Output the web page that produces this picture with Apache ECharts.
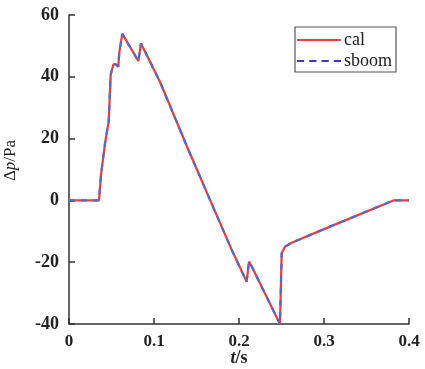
<!DOCTYPE html>
<html><head><meta charset="utf-8">
<script src="https://cdn.jsdelivr.net/npm/echarts@6/dist/echarts.min.js"></script>
<style>html,body{margin:0;padding:0;background:#fff}#c{width:425px;height:369px}</style>
</head><body><div id="c"></div>
<script>
var seriesNames = ['cal', 'sboom'];
var tValues = [0, 0.0353, 0.0376, 0.0424, 0.045, 0.0467, 0.049, 0.0522, 0.0553, 0.058, 0.0592, 0.0627, 0.0816, 0.0827, 0.0847, 0.0867, 0.107, 0.1404, 0.1914, 0.209, 0.2118, 0.2141, 0.2482, 0.2502, 0.2541, 0.262, 0.3, 0.3816, 0.4];
var calValues = [0, 0, 8.2, 18.5, 22.8, 25.5, 40.6, 44, 44, 43.3, 48, 53.9, 45.1, 44.6, 50.8, 51.4, 38.4, 16.4, -16, -26.3, -19.8, -20.9, -40, -17.1, -15, -13.7, -9.3, 0, 0];
var sboomValues = [0, 0, 8.2, 18.5, 22.8, 25.5, 40.6, 44, 44, 43.3, 48, 53.9, 45.1, 44.6, 50.8, 51.4, 38.4, 16.4, -16, -26.3, -19.8, -20.9, -40, -17.1, -15, -13.7, -9.3, 0, 0];
var xTicks = [0, 0.1, 0.2, 0.3, 0.4];
var yTicks = [-40, -20, 0, 20, 40, 60];

function pairs(xs, ys){ return xs.map(function(x,i){ return [x, ys[i]]; }); }
var serif = 'Liberation Serif';
var chart = echarts.init(document.getElementById('c'));
chart.setOption({
  animation: false,
  backgroundColor: '#fff',
  grid: {left: 69, right: 16, top: 15, bottom: 45, containLabel: false, outerBoundsMode: 'none'},
  legend: {
    show: true, orient: 'vertical', right: 29, top: 27,
    padding: [4, 4, 2, 2], itemGap: 3,
    borderColor: '#555', borderWidth: 1.2,
    itemWidth: 44, itemHeight: 14,
    textStyle: {fontFamily: serif, fontSize: 18, color: '#222', padding: [0,0,0,-2]},
    data: [
      {name: seriesNames[0], icon: 'path://M0,6 L44,6 L44,8 L0,8 Z', itemStyle: {color: '#f04040'}},
      {name: seriesNames[1], icon: 'path://M0,6 L7,6 L7,8 L0,8 Z M12,6 L19,6 L19,8 L12,8 Z M24,6 L31,6 L31,8 L24,8 Z M36,6 L43,6 L43,8 L36,8 Z', itemStyle: {color: '#3a3ab8'}}
    ]
  },
  xAxis: {
    type: 'value', min: xTicks[0], max: xTicks[xTicks.length-1], interval: 0.1,
    name: '{i|t}{n|/s}', nameLocation: 'middle', nameGap: 25, nameMoveOverlap: false,
    nameTextStyle: {rich: {i: {fontFamily: serif, fontStyle: 'italic', fontWeight: 'bold', fontSize: 18, color: '#222'}, n: {fontFamily: serif, fontWeight: 'bold', fontSize: 18, color: '#222'}}},
    axisLine: {show: true, onZero: false, lineStyle: {color: '#333', width: 1.5}},
    axisTick: {show: true, inside: true, length: 6, lineStyle: {color: '#333', width: 1.5}},
    axisLabel: {fontFamily: serif, fontWeight: 'bold', fontSize: 17, color: '#222', margin: 9,
      formatter: function(v){ return v === 0 ? '0' : v.toFixed(1); }},
    splitLine: {show: false}
  },
  yAxis: {
    type: 'value', min: yTicks[0], max: yTicks[yTicks.length-1], interval: 20,
    name: '{n|Δ}{i|p}{n|/Pa}', nameLocation: 'middle', nameGap: 50, nameRotate: 90, nameMoveOverlap: false,
    nameTextStyle: {padding: [0, 0, 0, 18], rich: {i: {fontFamily: serif, fontStyle: 'italic', fontSize: 17, color: '#222'}, n: {fontFamily: serif, fontSize: 17, color: '#222'}}},
    axisLine: {show: true, onZero: false, lineStyle: {color: '#333', width: 1.5}},
    axisTick: {show: true, inside: true, length: 6, lineStyle: {color: '#333', width: 1.5}},
    axisLabel: {fontFamily: serif, fontWeight: 'bold', fontSize: 18, color: '#222', margin: 10},
    splitLine: {show: false}
  },
  series: [
    {name: seriesNames[0], type: 'line', data: pairs(tValues, calValues), symbol: 'none',
     lineStyle: {color: '#f03a3a', width: 2.2}, itemStyle: {color: '#f04040'}, z: 2},
    {name: seriesNames[1], type: 'line', data: pairs(tValues, sboomValues), symbol: 'none',
     lineStyle: {color: '#4a6cd0', width: 2.2, type: [6, 6]}, itemStyle: {color: '#3a3ab8'}, z: 3}
  ]
});
</script></body></html>
